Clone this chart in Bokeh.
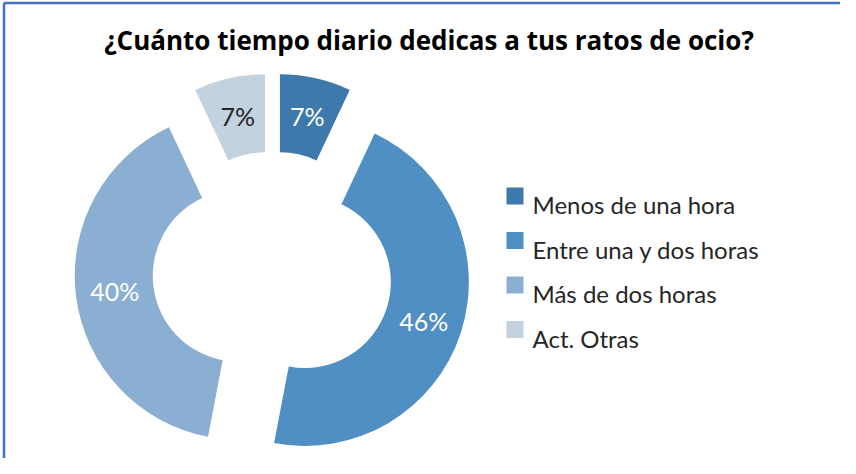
import numpy as np
from bokeh.plotting import figure
from bokeh.models import Range1d
from bokeh.core.properties import value
from bokeh.embed import file_html
from bokeh.resources import INLINE

# ---- data ----
title_text = "¿Cuánto tiempo diario dedicas a tus ratos de ocio?"
categories = ["Menos de una hora", "Entre una y dos horas", "Más de dos horas", "Act. Otras"]
values = [7, 46, 40, 7]
labels = ["7%", "46%", "40%", "7%"]
colors = ["#3e79ac", "#4f8fc3", "#8bafd3", "#c3d2df"]
label_colors = ["#ffffff", "#ffffff", "#ffffff", "#262626"]

# ---- layout (data units == pixels of the page image, y up = -image y) ----
W, H = 840, 458
CX, CY = 280, -279
R_OUT, R_IN = 164, 86
EXPLODE = 34
FONT = "Lato"
TITLE_FONT = "Open Sans"

p = figure(width=W, height=H, output_backend="svg", toolbar_location=None,
           x_range=Range1d(8, 8 + W), y_range=Range1d(-8 - H, -8),
           min_border=0)
p.axis.visible = False
p.grid.visible = False
p.outline_line_color = None
p.background_fill_color = "white"
p.border_fill_color = "white"

# chart frame (top and left edges)
p.segment(x0=[11.5, 11.5], y0=[-10.5, -10.5], x1=[860, 11.5], y1=[-10.5, -480],
          line_color="#4472c4", line_width=2.5)

vals = np.array(values, dtype=float)
cum = np.cumsum(vals)
theta2 = 360.0 * cum / vals.sum()
theta1 = np.concatenate([[0.0], theta2[:-1]])
thm = np.radians((theta1 + theta2) / 2.0)

cx = CX + EXPLODE * np.sin(thm)
cy = CY + EXPLODE * np.cos(thm)
start = np.radians(90.0 - theta2)
end = np.radians(90.0 - theta1)

p.annular_wedge(x=cx, y=cy, inner_radius=R_IN, outer_radius=R_OUT,
                start_angle=start, end_angle=end, direction="anticlock",
                fill_color=colors, line_color=None)

rm = (R_IN + R_OUT) / 2.0
lx = cx + rm * np.sin(thm)
ly = cy + rm * np.cos(thm)
p.text(x=lx, y=ly, text=labels, text_color=label_colors,
       text_font=value(FONT), text_font_size="25px",
       text_align="center", text_baseline="middle")

# title
p.text(x=[436.5], y=[-47.3], text=[title_text], text_font=value(TITLE_FONT),
       text_font_size="26px", text_font_style="bold", text_color="#000000",
       text_align="center", text_baseline="alphabetic")

# legend
n = len(categories)
row_y = -203.5 - 44.5 * np.arange(n)
p.scatter(x=[522.5] * n, y=row_y, marker="square", size=17,
          fill_color=colors, line_color=None)
p.text(x=[540] * n, y=row_y - 8.8, text=categories, text_font=value(FONT),
       text_font_size="24px", text_color="#262626",
       text_align="left", text_baseline="alphabetic")

open("out.html", "w").write(file_html(p, INLINE))
